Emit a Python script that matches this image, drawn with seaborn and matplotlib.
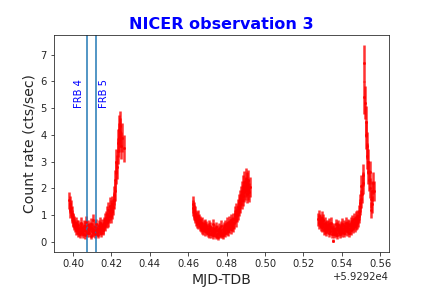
import numpy as np
import matplotlib
matplotlib.use("Agg")
import matplotlib.pyplot as plt
import seaborn as sns

# NICER observation 3 light curve, three good-time intervals
mjd_ref = 59292.0
bin_days = 0.0003          # time bin width (days)
exposure = 14.0            # seconds per bin, used for Poisson errors

seg1_start = 0.3980
seg1_rate = [1.55, 1.40, 1.20, 1.25, 1.05, 0.95, 0.85,
             0.80, 0.65, 0.75, 0.55, 0.70, 0.45, 0.60,
             0.50, 0.35, 0.62, 0.40, 0.55, 0.28, 0.48, 0.70, 0.38, 0.52,
             0.30, 0.60, 0.45, 0.25, 0.58, 0.42, 0.75, 0.35, 0.50, 0.62,
             0.33, 0.47, 0.55, 0.22, 0.68, 0.40, 0.52, 0.36, 0.80, 0.45,
             0.30, 0.57, 0.43, 0.65, 0.38, 0.50, 0.27, 0.60, 0.48, 0.72,
             0.41, 0.55, 0.35, 0.63, 0.50, 0.45, 0.70,
             0.65, 0.85, 0.60, 0.90, 0.75, 1.05, 0.80, 1.20, 0.95, 1.35,
             1.10, 1.25, 0.95, 1.40, 1.15,
             1.30, 1.55, 1.75, 1.90, 2.30, 2.60, 3.00, 2.80, 3.40, 3.70,
             3.90, 4.20, 4.35, 4.10, 3.60, 3.90, np.nan, np.nan, np.nan, 3.50]

seg2_start = 0.4623
seg2_rate = [1.40, 1.25, 1.10, 1.20, 0.95, 1.05, 0.85, 0.90, 0.75, 0.95,
             0.70, 0.80, 0.62, 0.75, 0.55, 0.68, 0.50, 0.72, 0.45, 0.60,
             0.55, 0.40, 0.65, 0.48, 0.58, 0.42,
             0.50, 0.35, 0.60, 0.30, 0.45, 0.55, 0.28, 0.42, 0.38, 0.65,
             0.25, 0.48, 0.33, 0.40, 0.22, 0.55, 0.30, 0.45, 0.20, 0.38,
             0.50, 0.27, 0.42, 0.35, 0.60, 0.30, 0.48, 0.25, 0.55, 0.40,
             0.62, 0.35, 0.50, 0.70, 0.45, 0.58, 0.40, 0.75, 0.52, 0.65,
             0.48, 0.80, 0.60, 0.72, 0.55,
             0.85, 0.70, 0.95, 1.05, 0.80, 1.15, 1.00, 1.30, 1.10, 1.45,
             1.25, 1.60, 1.40, 1.75, 1.55,
             1.90, 1.70, 2.10, 1.85, 2.25, 1.95, 2.35, 2.05, 1.80, 2.20,
             1.95, 2.30, 1.85, 2.05]

seg3_start = 0.5278
seg3_rate = [0.85, 0.95, 0.70, 0.80, 0.60, 0.75, 0.90, 0.55, 0.65, 0.80,
             0.45, 0.70, 0.50, 0.62, 0.38, 0.58, 0.60, 0.48, 0.66, 0.35,
             0.55, 0.42, 0.70, 0.30, 0.52, 0.45, 0.05, 0.28, 0.50, 0.40,
             0.65, 0.35, 0.55, 0.25, 0.48, 0.62, 0.38, 0.52, 0.30, 0.58,
             0.44, 0.68, 0.36, 0.50, 0.60, 0.32, 0.55, 0.45, 0.70, 0.40,
             0.58, 0.48, 0.65, 0.35, 0.62, 0.50, 0.72, 0.45, 0.60, 0.78,
             0.52, 0.68, 0.85, 0.58, 0.75, 0.90, 0.65,
             0.70, 0.95, 0.80, 1.10, 0.95, 1.30, 1.45,
             1.60, 2.10, 1.80, 2.50, 2.20, 6.67, 5.40, 5.20, 4.50, 4.00,
             3.60, 3.20, 3.00, 2.60, 2.30, 2.60, 2.00, 1.60, 1.20, 1.40,
             1.90, 2.20, 1.90]

frb_times = [0.4071, 0.4118]
frb_names = ["FRB 4", "FRB 5"]

sns.set_style("ticks")
plt.rcParams["font.family"] = ["DejaVu Sans"]

fig = plt.figure(figsize=(6, 4), dpi=72)
ax = fig.add_subplot(111)
fig.subplots_adjust(left=0.125, right=0.9, top=0.878, bottom=0.125)

for start, rate in [(seg1_start, seg1_rate), (seg2_start, seg2_rate), (seg3_start, seg3_rate)]:
    rate = np.array(rate)
    t = mjd_ref + start + bin_days * np.arange(len(rate))
    err = np.sqrt(rate * exposure) / exposure
    ax.errorbar(t, rate, yerr=err, fmt="s", ms=1.5, color="red",
                ecolor=(1, 0, 0, 0.8), elinewidth=2.5)

# FRB arrival times
for tf, name in zip(frb_times, frb_names):
    ax.axvline(mjd_ref + tf, color="#1f77b4", lw=1.5)
ax.text(mjd_ref + frb_times[0] - 0.0012, 5, frb_names[0], rotation=90,
        color="blue", fontsize=10, ha="right", va="bottom")
ax.text(mjd_ref + frb_times[1] + 0.0016, 5, frb_names[1], rotation=90,
        color="blue", fontsize=10, ha="left", va="bottom")

ax.set_title("NICER observation 3", fontsize=16, fontweight="bold", color="blue")
ax.set_xlabel("MJD-TDB", fontsize=14)
ax.set_ylabel("Count rate (cts/sec)", fontsize=14)

fig.savefig("out.png", dpi=72)
